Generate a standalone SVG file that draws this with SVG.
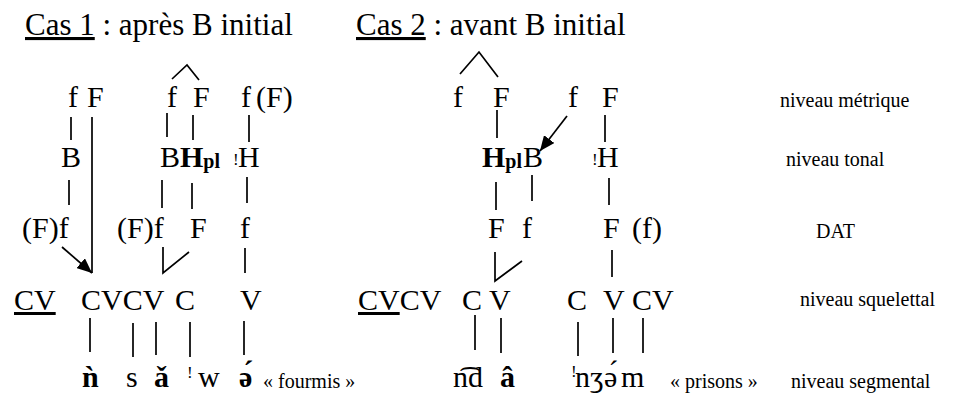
<svg xmlns="http://www.w3.org/2000/svg" width="954" height="405" viewBox="0 0 954 405" font-family="'Liberation Serif', 'DejaVu Serif', 'Times New Roman', serif">
<style>
text{font-family:'Liberation Serif','DejaVu Serif','Times New Roman',serif;fill:#000}
.m{font-size:30px}
.t{font-size:31px}
.b{font-weight:bold}
.sub{font-size:20px;font-weight:bold}
.ex{font-size:17px}
.lab{font-size:20px}
.c line,.c polyline{stroke:#000;stroke-width:1.7;fill:none}
</style>
<defs>
<marker id="ah" markerUnits="userSpaceOnUse" markerWidth="16" markerHeight="13" refX="15" refY="6.5" orient="auto">
<path d="M0,0 L15,6.5 L0,13 z" fill="#000"/>
</marker>
</defs>
<rect width="954" height="405" fill="#fff"/>
<g id="titles">
<text class="t" x="25" y="35"><tspan text-decoration="underline">Cas 1</tspan> : après B initial</text>
<text class="t" x="356" y="35"><tspan text-decoration="underline">Cas 2</tspan> : avant B initial</text>
</g>
<g id="labels">
<text class="lab" x="780" y="107">niveau métrique</text>
<text class="lab" x="786" y="166">niveau tonal</text>
<text class="lab" x="816" y="238">DAT</text>
<text class="lab" x="800" y="306">niveau squelettal</text>
<text class="lab" x="791" y="388">niveau segmental</text>
</g>
<g id="case1">
<g id="c1-f1"><text class="m" x="68" y="107">f</text></g>
<g id="c1-F1"><text class="m" x="87" y="107">F</text></g>
<g id="c1-f2"><text class="m" x="167" y="107">f</text></g>
<g id="c1-F2"><text class="m" x="193" y="107">F</text></g>
<g id="c1-f3"><text class="m" x="241" y="107">f</text></g>
<g id="c1-F3"><text class="m" x="256" y="107">(F)</text></g>
<g id="c1-B1"><text class="m" x="61" y="167">B</text></g>
<g id="c1-B2"><text class="m" x="160" y="167">B</text></g>
<g id="c1-Hpl"><text class="m b" x="180" y="167">H<tspan class="sub" dy="1">pl</tspan></text></g>
<g id="c1-H"><text class="ex" x="233" y="165">!</text><text class="m" x="238" y="167">H</text></g>
<g id="c1-d1"><text class="m" x="22" y="238">(F)f</text></g>
<g id="c1-d2"><text class="m" x="117" y="238">(F)f</text></g>
<g id="c1-d3"><text class="m" x="190" y="238">F</text></g>
<g id="c1-d4"><text class="m" x="240" y="238">f</text></g>
<g id="c1-s0"><text class="m" x="14" y="310" text-decoration="underline">CV</text></g>
<g id="c1-s1"><text class="m" x="81" y="310">CVCV</text></g>
<g id="c1-s2"><text class="m" x="175" y="310">C</text></g>
<g id="c1-s3"><text class="m" x="240" y="310">V</text></g>
<g id="c1-n"><text class="m b" x="82" y="387">ǹ</text></g>
<g id="c1-s"><text class="m" x="126" y="387">s</text></g>
<g id="c1-a"><text class="m b" x="154" y="387">ǎ</text></g>
<g id="c1-w"><text class="ex" x="187" y="378">!</text><text class="m" x="198" y="387">w</text></g>
<g id="c1-e"><text class="m b" x="239" y="387">ə́</text></g>
<g id="c1-gloss"><text class="lab" x="263" y="388">« fourmis »</text></g>
</g>
<g id="case2">
<g id="c2-f1"><text class="m" x="453" y="107">f</text></g>
<g id="c2-F1"><text class="m" x="493" y="107">F</text></g>
<g id="c2-f2"><text class="m" x="568" y="107">f</text></g>
<g id="c2-F2"><text class="m" x="602" y="107">F</text></g>
<g id="c2-Hpl"><text class="m b" x="482" y="167">H<tspan class="sub" dy="1">pl</tspan></text></g>
<g id="c2-B"><text class="m" x="523" y="167">B</text></g>
<g id="c2-H"><text class="ex" x="592" y="165">!</text><text class="m" x="597" y="167">H</text></g>
<g id="c2-d1"><text class="m" x="488" y="238">F</text></g>
<g id="c2-d2"><text class="m" x="522" y="238">f</text></g>
<g id="c2-d3"><text class="m" x="603" y="238">F</text></g>
<g id="c2-d4"><text class="m" x="632" y="238">(f)</text></g>
<g id="c2-s1"><text class="m" x="358" y="310"><tspan text-decoration="underline">CV</tspan>CV</text></g>
<g id="c2-s2"><text class="m" x="462" y="310">C</text></g>
<g id="c2-s3"><text class="m" x="489" y="310">V</text></g>
<g id="c2-s4"><text class="m" x="567" y="310">C</text></g>
<g id="c2-s5"><text class="m" x="603" y="310">V</text></g>
<g id="c2-s6"><text class="m" x="632" y="310">CV</text></g>
<g id="c2-nd"><text class="m" x="453" y="387">n͡d</text></g>
<g id="c2-a"><text class="m b" x="500" y="387">â</text></g>
<g id="c2-nz"><text class="ex" x="571" y="377">!</text><text class="m" x="575" y="387">nʒ</text></g>
<g id="c2-e"><text class="m" x="604" y="387">ə́</text></g>
<g id="c2-m"><text class="m" x="621" y="387">m</text></g>
<g id="c2-gloss"><text class="lab" x="670" y="388">« prisons »</text></g>
</g>
<g id="connectors" class="c">
<polyline points="172,79 187,65 199,80"/>
<line x1="71" y1="117" x2="71" y2="140"/>
<line x1="92" y1="117" x2="92" y2="273"/>
<line x1="167" y1="113" x2="167" y2="137"/>
<line x1="193" y1="115" x2="193" y2="140"/>
<line x1="249" y1="115" x2="249" y2="142"/>
<line x1="69" y1="180" x2="69" y2="205"/>
<line x1="162" y1="180" x2="162" y2="208"/>
<line x1="192" y1="183" x2="192" y2="209"/>
<line x1="247" y1="177" x2="247" y2="203"/>
<line x1="62" y1="247" x2="92" y2="273" marker-end="url(#ah)"/>
<polyline points="163,247 163,273 189,252"/>
<line x1="245" y1="248" x2="245" y2="273"/>
<line x1="90" y1="318" x2="90" y2="352"/>
<line x1="133" y1="323" x2="133" y2="357"/>
<line x1="156" y1="322" x2="156" y2="355"/>
<line x1="190" y1="322" x2="190" y2="357"/>
<line x1="244" y1="321" x2="244" y2="355"/>
<polyline points="460,74 479,52 498,77"/>
<line x1="497" y1="110" x2="497" y2="138"/>
<line x1="567" y1="116" x2="540" y2="151" marker-end="url(#ah)"/>
<line x1="605" y1="115" x2="605" y2="142"/>
<line x1="496" y1="182" x2="496" y2="210"/>
<line x1="532" y1="175" x2="532" y2="201"/>
<line x1="609" y1="178" x2="609" y2="205"/>
<polyline points="495,252 495,281 522,261"/>
<line x1="612" y1="250" x2="612" y2="277"/>
<line x1="475" y1="315" x2="475" y2="350"/>
<line x1="501" y1="318" x2="501" y2="353"/>
<line x1="578" y1="322" x2="578" y2="356"/>
<line x1="613" y1="318" x2="613" y2="353"/>
<line x1="643" y1="318" x2="643" y2="353"/>
</g>
</svg>
